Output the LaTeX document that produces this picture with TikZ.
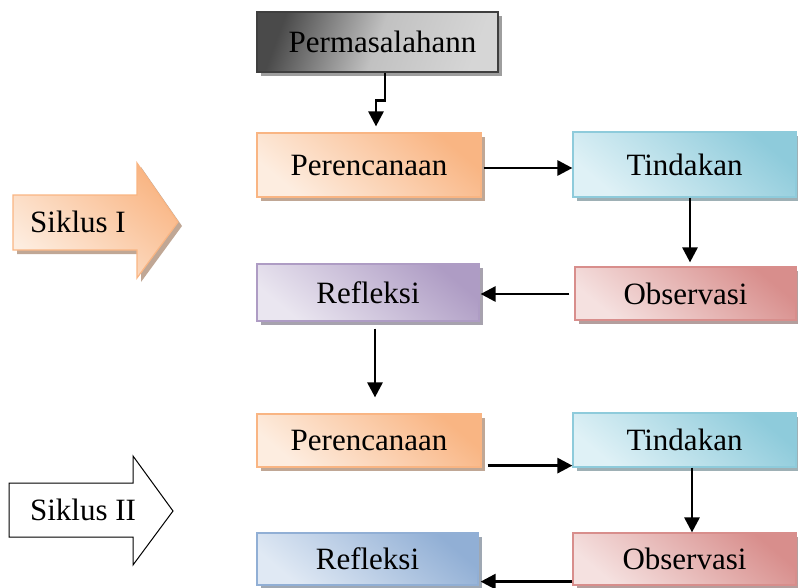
\documentclass[tikz,border=0pt]{standalone}
\usepackage{fontspec}
\setmainfont{Liberation Serif}
\usetikzlibrary{positioning,shapes,shadows,arrows.meta}

\definecolor{abuTua}{HTML}{4A4A4A}
\definecolor{abuMuda}{HTML}{D6D6D6}
\definecolor{oranyeTua}{HTML}{F9B583}
\definecolor{oranyeMuda}{HTML}{FDEDE0}
\definecolor{biruTua}{HTML}{8ECBDB}
\definecolor{biruMuda}{HTML}{DFF1F6}
\definecolor{merahTua}{HTML}{D88E8C}
\definecolor{merahMuda}{HTML}{F5E1E0}
\definecolor{unguTua}{HTML}{AE9CC4}
\definecolor{unguMuda}{HTML}{EAE6F0}
\definecolor{nilaTua}{HTML}{91AFD5}
\definecolor{nilaMuda}{HTML}{E0E9F4}

\def\geser{4pt}
\tikzstyle{kotak} = [rectangle, text centered, line width=1.2pt, minimum width=223pt, font=\fontsize{31}{36}\selectfont]
\tikzstyle{masalah} = [kotak, draw=abuTua!85!black, left color=abuTua, right color=abuMuda, middle color=abuMuda!85!abuTua, shading angle=70, drop shadow={shadow xshift=\geser, shadow yshift=-\geser, fill=black!38, opacity=1}]
\tikzstyle{rencana} = [kotak, draw=oranyeTua, top color=oranyeTua, bottom color=oranyeMuda, shading angle=-40, drop shadow={shadow xshift=\geser, shadow yshift=-\geser, fill=oranyeTua!60!black!60, opacity=1}]
\tikzstyle{tindak} = [kotak, draw=biruTua, top color=biruTua, bottom color=biruMuda, shading angle=-40, drop shadow={shadow xshift=\geser, shadow yshift=-\geser, fill=biruTua!55!black!55, opacity=1}]
\tikzstyle{amat} = [kotak, draw=merahTua, top color=merahTua, bottom color=merahMuda, shading angle=-40, drop shadow={shadow xshift=\geser, shadow yshift=-\geser, fill=merahTua!55!black!55, opacity=1}]
\tikzstyle{refleksi} = [kotak, draw=unguTua, top color=unguTua, bottom color=unguMuda, shading angle=-40, drop shadow={shadow xshift=\geser, shadow yshift=-\geser, fill=unguTua!55!black!55, opacity=1}]
\tikzstyle{refleksiB} = [kotak, draw=nilaTua, top color=nilaTua, bottom color=nilaMuda, shading angle=-40, drop shadow={shadow xshift=\geser, shadow yshift=-\geser, fill=nilaTua!55!black!55, opacity=1}]
\tikzstyle{panahI} = [draw=oranyeTua, line width=1.2pt, top color=oranyeTua, bottom color=oranyeMuda, shading angle=-40, drop shadow={shadow xshift=\geser, shadow yshift=-\geser, fill=oranyeTua!60!black!60, opacity=1}]
\tikzstyle{panahII} = [draw=black, line width=1pt, fill=white]
\tikzstyle{teks} = [font=\fontsize{31}{36}\selectfont]
\tikzstyle{arrow} = [line width=2.8pt, -{Triangle[length=15pt,width=15pt]}]

\begin{document}
\begin{tikzpicture}[x=1pt, y=-1pt]
\useasboundingbox (0,0) rectangle (798,587);

\draw [panahI] (13,195) -- (137,195) -- (137,163) -- (178,222) -- (137,278) -- (137,250) -- (13,250) -- cycle;
\node (siklus1) [teks] at (78,222) {Siklus I};
\draw [panahII] (9,483) -- (133,483) -- (133,456) -- (173,511) -- (133,565) -- (133,537) -- (9,537) -- cycle;
\node (siklus2) [teks] at (83,510) {Siklus II};

\node (masalah) [masalah, minimum width=241pt, minimum height=60pt] at (377.5,42) {\hspace*{10pt}Permasalahann};
\node (rencana1) [rencana, minimum width=224pt, minimum height=64pt] at (369,165) {Perencanaan};
\node (tindak1) [tindak, minimum height=65pt] at (684.5,164.5) {Tindakan};
\node (obs1) [amat, minimum width=221pt, minimum height=53pt] at (685.5,293.5) {Observasi};
\node (refleksi1) [refleksi, minimum width=222pt, minimum height=57pt] at (368,292.5) {Refleksi};

\node (rencana2) [rencana, minimum width=224pt, minimum height=53pt] at (369,440.5) {Perencanaan};
\node (tindak2) [tindak, minimum height=54pt] at (684.5,440) {Tindakan};
\node (obs2) [amat, minimum height=52pt] at (684.5,559) {Observasi};
\node (refleksi2) [refleksiB, minimum width=221pt, minimum height=52pt] at (367.5,559) {Refleksi};

\draw [arrow] ([xshift=7.5pt]masalah.south) -- ++(0,28) -| ([xshift=7pt,yshift=6pt]rencana1.north);
\draw [arrow] ([xshift=2pt,yshift=-3pt]rencana1.east) -- ([yshift=-3.5pt]tindak1.west);
\draw [arrow] ([xshift=5.5pt]tindak1.south) -- ([xshift=4.5pt,yshift=4pt]obs1.north);
\draw [arrow] ([xshift=-5pt,yshift=-0.5pt]obs1.west) -- ([xshift=1pt,yshift=-1.5pt]refleksi1.east);
\draw [arrow] ([xshift=7pt,yshift=-7pt]refleksi1.south) -- ([xshift=6pt,yshift=16pt]rencana2.north);

\draw [arrow] ([xshift=6pt,yshift=2pt]rencana2.south east) -- ([yshift=2pt]tindak2.south west);
\draw [arrow] ([xshift=7.5pt]tindak2.south) -- ([xshift=7.5pt]obs2.north);
\draw [arrow] ([yshift=4pt]obs2.south west) -- ([xshift=2pt,yshift=4pt]refleksi2.south east);

\end{tikzpicture}
\end{document}
